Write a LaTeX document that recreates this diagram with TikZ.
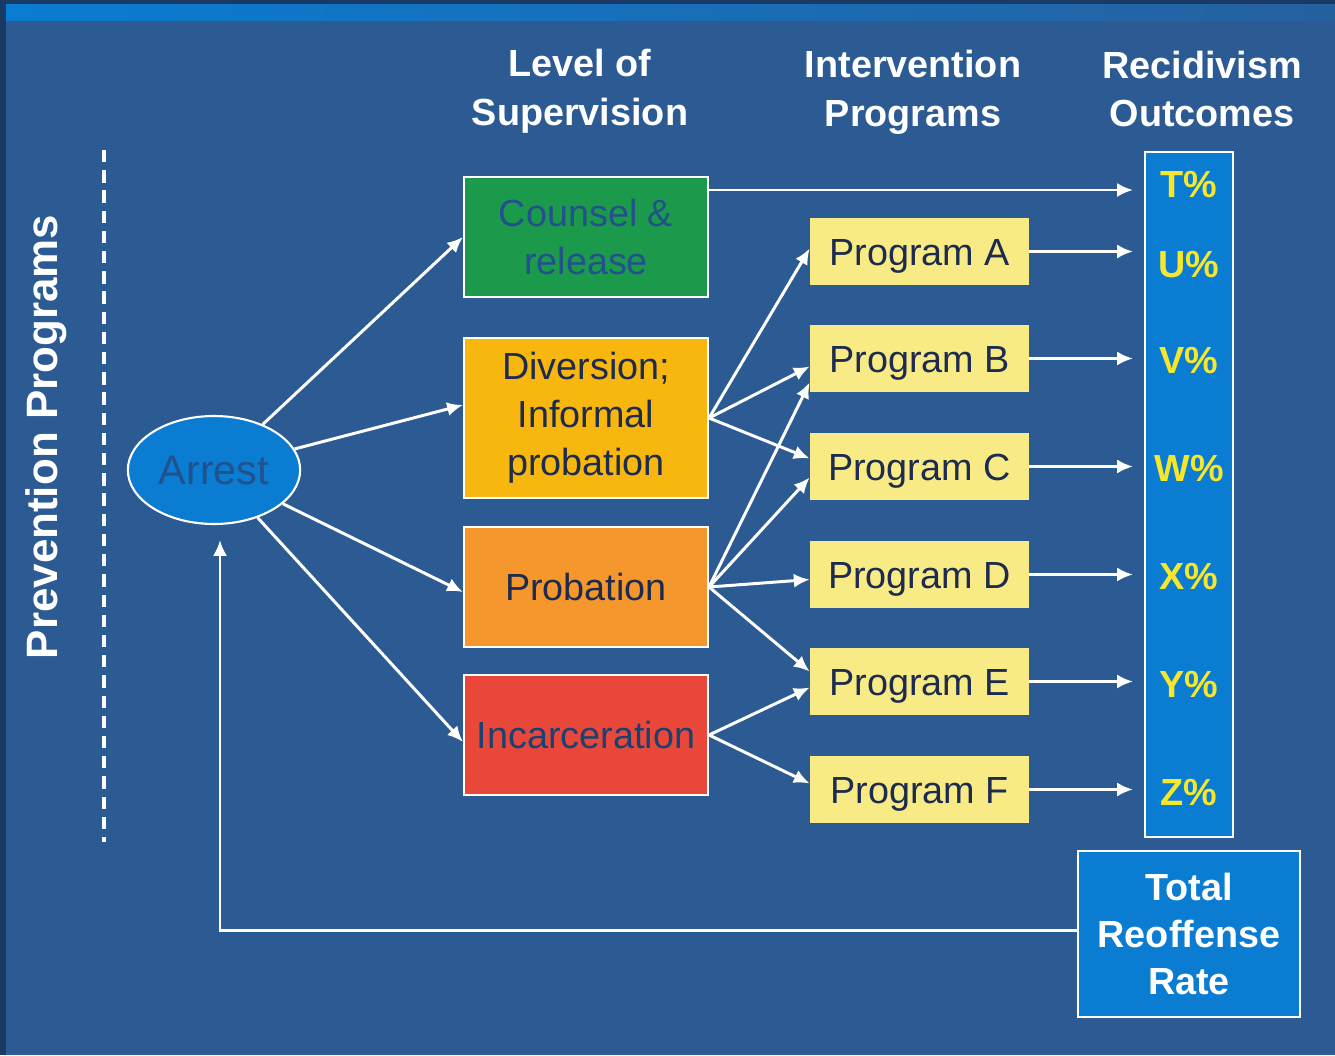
\documentclass[tikz,border=0pt]{standalone}
\usepackage{fontspec}
\setmainfont{Liberation Sans}
\usepackage{tikz}
\usetikzlibrary{calc,shapes,arrows.meta}

\definecolor{bgblue}{HTML}{2C5A92}
\definecolor{edgeblue}{HTML}{1A3A66}
\definecolor{brightblue}{HTML}{0A7CD2}
\definecolor{cgreen}{HTML}{1B9A4B}
\definecolor{camber}{HTML}{F8B70E}
\definecolor{corange}{HTML}{F5972C}
\definecolor{cred}{HTML}{E8473A}
\definecolor{cyellow}{HTML}{F8EB86}
\definecolor{outyellow}{HTML}{F6E62C}
\definecolor{inkblue}{HTML}{22518C}
\definecolor{inkdark}{HTML}{1C2B4E}

\tikzset{
  level/.style={draw=white, line width=1.2pt, minimum width=4.88cm, text=inkdark,
    font=\fontsize{21.5}{27.3}\selectfont, align=center},
  prog/.style={fill=cyellow, minimum width=4.38cm, minimum height=1.34cm,
    text height=0.56cm, text depth=0pt,
    text=inkdark, font=\fontsize{21.5}{27.3}\selectfont},
  head/.style={text=white, font=\bfseries\fontsize{21.5}{27.8}\selectfont, align=center},
  outc/.style={text=outyellow, font=\bfseries\fontsize{21.5}{26}\selectfont},
  link/.style={white, line width=1.7pt, -{Latex[length=9pt,width=8pt]}},
}

\begin{document}
\begin{tikzpicture}[x=0.02cm,y=-0.02cm]
        % background
        \fill[edgeblue] (0,0) rectangle (1335,1055);
        \fill[bgblue] (6,4) rectangle (1335,1055);
        \shade[left color=brightblue, right color=bgblue!80!brightblue] (6,4) rectangle (1335,20);
        \useasboundingbox (0,0) rectangle (1335,1055);

        % column heads
        \node[head] (hlevel) at (580,91) {Level of\\Supervision};
        \node[head] (hprog) at (913,92) {Intervention\\Programs};
        \node[head] (hout) at (1202,89) {Recidivism\\Outcomes};

        % prevention
        \draw[white, line width=1.8pt, dash pattern=on 7pt off 4.5pt] (104,150) -- (104,842);
        \node[rotate=90, text=white, font=\bfseries\fontsize{25}{29}\selectfont] (prev) at (46,437) {Prevention Programs};

        % arrest
        \node[ellipse, draw=white, line width=1.2pt, fill=brightblue, minimum width=3.25cm,
            minimum height=2.16cm, text=inkblue, font=\fontsize{23.5}{28}\selectfont] (arrest) at (214,470) {Arrest};

        % supervision levels
        \node[level, fill=cgreen, minimum height=2.4cm, text=inkblue] (counsel) at (586,237) {Counsel \&\\release};
        \node[level, fill=camber, minimum height=3.2cm] (divers) at (586,418) {Diversion;\\Informal\\probation};
        \node[level, fill=corange, minimum height=2.4cm] (probat) at (586,587) {Probation};
        \node[level, fill=cred, minimum height=2.4cm, text=inkblue!80!black, inner xsep=0pt] (incarc) at (586,735) {Incarceration};

        % programs
        \foreach \p/\y in {A/251.5,B/358.5,C/466.5,D/574.5,E/681.5,F/789.5}
            \node[prog] (prog\p) at (919.5,\y) {Program \p};

        % outcomes
        \node[draw=white, line width=1.2pt, fill=brightblue, minimum width=1.76cm, minimum height=13.7cm] (outcol) at (1189,494.5) {};
        \foreach \o/\y in {T/185,U/265,V/360,W/468,X/576,Y/684,Z/792}
            \node[outc] (out\o) at (1189,\y) {\o\%};

        \node[draw=white, line width=1.6pt, fill=brightblue, minimum width=4.44cm, minimum height=3.32cm,
            text=white, font=\bfseries\fontsize{21.5}{27}\selectfont, align=center] (total) at (1189,934) {Total\\Reoffense\\Rate};

        % connectors
        \coordinate (colin) at (1133,0);
        \coordinate (tin) at (1133,190);
        \coordinate (fback) at (220,540);

        \draw[link] (arrest) -- (counsel.west);
        \draw[link] (arrest) -- ([yshift=0.26cm]divers.west);
        \draw[link] (arrest) -- ([yshift=-0.1cm]probat.west);
        \draw[link] (arrest) -- ([yshift=-0.14cm]incarc.west);

        \draw[link] (counsel.east |- tin) -- (tin);
        \foreach \p in {A,B,C,D,E,F}
            \draw[link] (prog\p.east) -- (prog\p.east -| colin);

        \draw[link] (divers.east) -- ([yshift=0.06cm]progA.west);
        \draw[link] (divers.east) -- ([yshift=-0.16cm]progB.west);
        \draw[link] (divers.east) -- ([yshift=0.16cm]progC.west);
        \draw[link] (probat.east) -- ([yshift=-0.48cm]progB.west);
        \draw[link] (probat.east) -- ([yshift=-0.22cm]progC.west);
        \draw[link] (probat.east) -- ([yshift=-0.1cm]progD.west);
        \draw[link] (probat.east) -- ([yshift=0.2cm]progE.west);
        \draw[link] (incarc.east) -- ([yshift=-0.12cm]progE.west);
        \draw[link] (incarc.east) -- ([yshift=0.12cm]progF.west);

        \draw[link] ([yshift=0.08cm]total.west) -| (fback);
    \end{tikzpicture}
\end{document}
